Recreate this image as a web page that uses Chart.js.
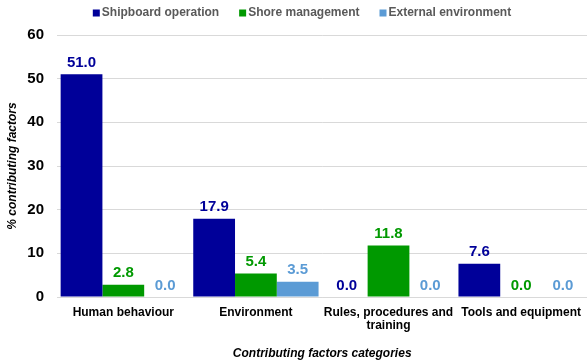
<!DOCTYPE html>
<html>
<head>
<meta charset="utf-8">
<script src="https://cdn.jsdelivr.net/npm/chart.js@4/dist/chart.umd.min.js"></script>
<style>
  html, body { margin: 0; padding: 0; background: #fff; overflow: hidden; }
  /* the original picture is cut off a few pixels past its right edge */
  #wrap { width: 590px; height: 362px; }
</style>
</head>
<body>
<div id="wrap"><canvas id="myChart"></canvas></div>
<script>
const categories = ['Human behaviour', 'Environment', ['Rules, procedures and', 'training'], 'Tools and equipment'];
const shipboard = [51.0, 17.9, 0.0, 7.6];
const shore = [2.8, 5.4, 11.8, 0.0];
const external = [0.0, 3.5, 0.0, 0.0];
const yTicks = [0, 10, 20, 30, 40, 50, 60];

const FONT = "'Liberation Sans', Arial, sans-serif";

// value labels above each bar, in the bar colour
const barLabels = {
    id: 'barLabels',
    afterDatasetsDraw(chart) {
        const ctx = chart.ctx;
        ctx.save();
        ctx.font = 'bold 15px ' + FONT;
        ctx.textAlign = 'center';
        ctx.textBaseline = 'bottom';
        chart.data.datasets.forEach((ds, i) => {
            const meta = chart.getDatasetMeta(i);
            meta.data.forEach((el, j) => {
                ctx.fillStyle = ds.backgroundColor;
                ctx.fillText(ds.data[j].toFixed(1), el.x, el.y - 4);
            });
        });
        ctx.restore();
    }
};

// compact legend like the excel one: small square stuck to the text
const topLegend = {
    id: 'topLegend',
    afterDraw(chart) {
        const ctx = chart.ctx;
        const box = 7, gap = 2, between = 20;
        ctx.save();
        ctx.font = 'bold 12px ' + FONT;
        ctx.textBaseline = 'middle';
        const items = chart.data.datasets.map(ds => ({
            text: ds.label, color: ds.backgroundColor, w: ctx.measureText(ds.label).width
        }));
        let total = 0;
        items.forEach((it, i) => { total += box + gap + it.w + (i ? between : 0); });
        let x = 302 - total / 2;
        const y = 13;
        items.forEach(it => {
            ctx.fillStyle = it.color;
            ctx.fillRect(x, y - box / 2, box, box);
            ctx.fillStyle = '#595959';
            ctx.fillText(it.text, x + box + gap, y);
            x += box + gap + it.w + between;
        });
        ctx.restore();
    }
};

const config = {
    type: 'bar',
    data: {
        labels: categories,
        datasets: [{
            label: 'Shipboard operation',
            data: shipboard,
            backgroundColor: '#000099'
        }, {
            label: 'Shore management',
            data: shore,
            backgroundColor: '#009900'
        }, {
            label: 'External environment',
            data: external,
            backgroundColor: '#5b9bd5'
        }]
    },
    options: {
        responsive: true,
        maintainAspectRatio: false,
        animation: false,
        categoryPercentage: 0.945,
        barPercentage: 1.0,
        layout: { padding: { left: 5, right: 0, top: 35, bottom: 1 } },
        plugins: {
            legend: { display: false },
            tooltip: { enabled: false }
        },
        scales: {
            x: {
                afterFit(axis) { axis.height = 64; },
                grid: { display: false, drawTicks: false },
                border: { color: '#d9d9d9' },
                ticks: {
                    color: '#000',
                    padding: 9,
                    maxRotation: 0,
                    autoSkip: false,
                    font: { family: FONT, size: 12, weight: 'bold', lineHeight: 1.1 }
                },
                title: {
                    display: true,
                    text: 'Contributing factors categories',
                    color: '#000',
                    padding: { top: 4, bottom: 0 },
                    font: { family: FONT, size: 12, weight: 'bold', style: 'italic' }
                }
            },
            y: {
                min: 0,
                max: 60,
                afterFit(axis) { axis.width = 52; },
                afterBuildTicks(axis) { axis.ticks = yTicks.map(v => ({ value: v })); },
                grid: { color: '#d9d9d9', drawTicks: false },
                border: { display: false },
                ticks: {
                    color: '#000',
                    padding: 13,
                    font: { family: FONT, size: 15, weight: 'bold' }
                },
                title: {
                    display: true,
                    text: '% contributing factors',
                    color: '#000',
                    padding: { top: 0, bottom: 0 },
                    font: { family: FONT, size: 12, weight: 'bold', style: 'italic' }
                }
            }
        }
    },
    plugins: [barLabels, topLegend]
};

new Chart(document.getElementById('myChart'), config);
</script>
</body>
</html>
